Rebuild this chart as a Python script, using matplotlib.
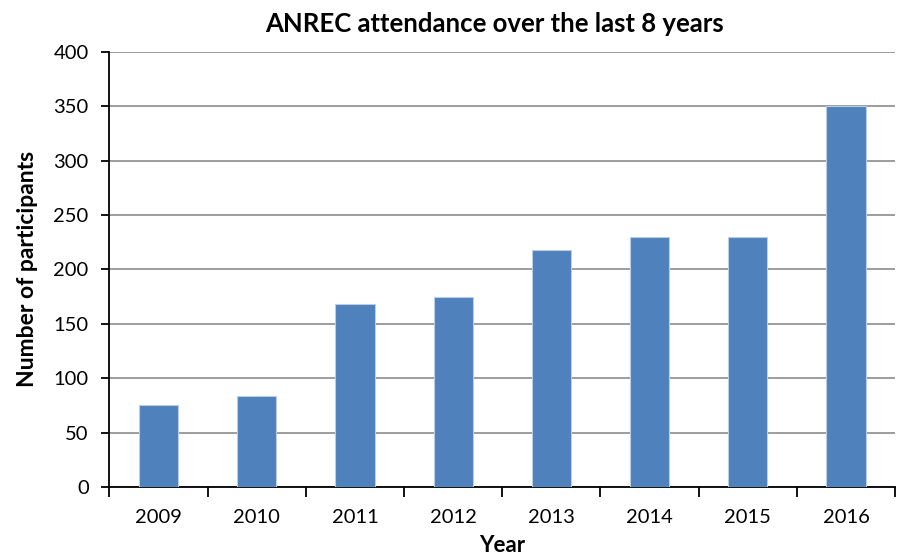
import numpy as np
from matplotlib import pyplot as plt

years = ['2009', '2010', '2011', '2012', '2013', '2014', '2015', '2016']
participants = [75, 84, 168, 175, 218, 230, 230, 350]

plt.rcParams['font.family'] = ['Lato', 'DejaVu Sans']

fig = plt.figure(figsize=(8.99, 5.54), dpi=100)
ax = fig.add_axes([0.1218, 0.1209, 0.8738, 0.7858])

x = np.arange(len(years))
ax.bar(x, participants, width=0.4, color='#4F81BD', edgecolor='#B9CDE5',
       linewidth=0.8, zorder=3)

ax.set_xlim(-0.5, len(years) - 0.5)
ax.set_ylim(0, 400)
ax.set_yticks(np.arange(0, 401, 50))
ax.set_xticks(x)
ax.set_xticklabels(years)
ax.set_xticks(np.arange(-0.5, len(years)), minor=True)

ax.grid(axis='y', color='#8C8C8C', linewidth=1.2, zorder=0)
for side in ['top', 'right']:
    ax.spines[side].set_visible(False)
for side in ['left', 'bottom']:
    ax.spines[side].set_linewidth(1.3)

ax.tick_params(axis='x', which='major', length=0, pad=16, labelsize=14.5)
ax.tick_params(axis='x', which='minor', length=7, width=1.3, direction='out')
ax.tick_params(axis='y', length=6, width=1.3, labelsize=14.5, pad=9)

ax.set_title('ANREC attendance over the last 8 years', fontsize=18.5,
             fontweight='bold', pad=14, x=0.49)
ax.set_xlabel('Year', fontsize=16, fontweight='bold', labelpad=6)
ax.set_ylabel('Number of participants', fontsize=16.5, fontweight='bold',
              labelpad=11)

fig.savefig('out.png', dpi=100)
